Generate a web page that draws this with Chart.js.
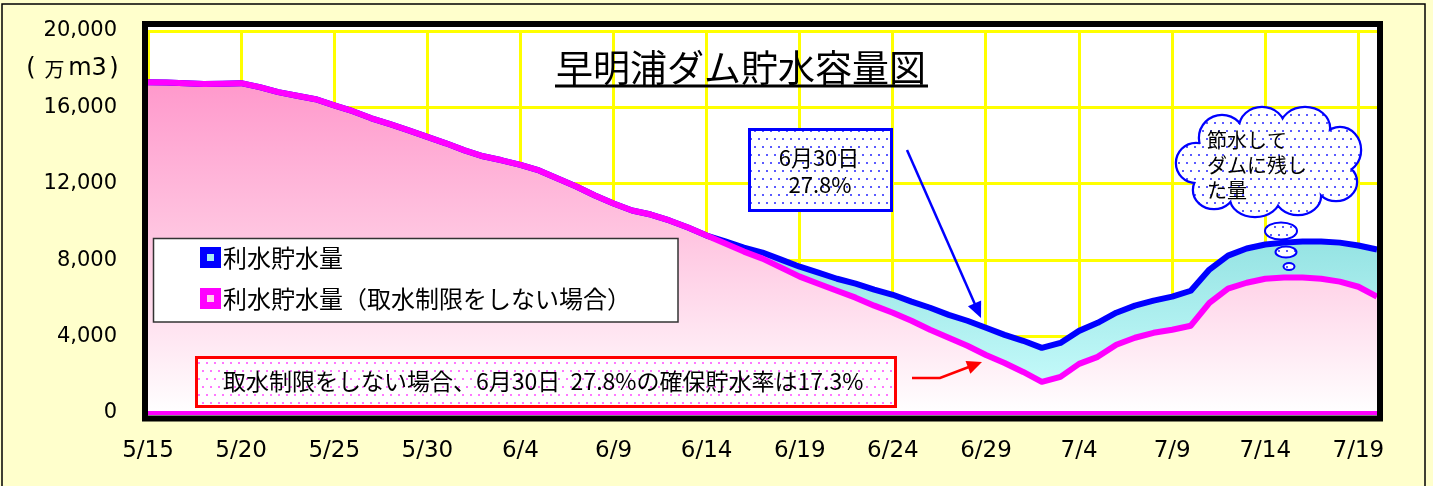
<!DOCTYPE html>
<html lang="ja">
<head>
<meta charset="utf-8">
<title>早明浦ダム貯水容量図</title>
<script src="https://cdn.jsdelivr.net/npm/chart.js@4.4.1/dist/chart.umd.min.js"></script>
<style>
  html, body { margin: 0; padding: 0; background: #FFFFCC; }
  #wrap { width: 1433px; height: 486px; }
</style>
</head>
<body>
<div id="wrap"><canvas id="damChart" width="1433" height="486"></canvas></div>
<script>
// days 5/15 - 7/20
var days = [
  '5/15','5/16','5/17','5/18','5/19','5/20','5/21','5/22','5/23','5/24','5/25','5/26','5/27','5/28','5/29','5/30','5/31',
  '6/1','6/2','6/3','6/4','6/5','6/6','6/7','6/8','6/9','6/10','6/11','6/12','6/13','6/14','6/15','6/16','6/17','6/18','6/19',
  '6/20','6/21','6/22','6/23','6/24','6/25','6/26','6/27','6/28','6/29','6/30',
  '7/1','7/2','7/3','7/4','7/5','7/6','7/7','7/8','7/9','7/10','7/11','7/12','7/13','7/14','7/15','7/16','7/17','7/18','7/19','7/20'
];
var xTickLabels = ['5/15','5/20','5/25','5/30','6/4','6/9','6/14','6/19','6/24','6/29','7/4','7/9','7/14','7/19'];
var yTicks = [0, 4000, 8000, 12000, 16000, 20000];

// 利水貯水量 (万m3)
var storage = [
  17320, 17300, 17270, 17220, 17240, 17270, 17060, 16800, 16610, 16430,
  16110, 15800, 15430, 15120, 14800, 14460, 14120, 13750, 13440, 13230,
  12990, 12700, 12280, 11860, 11390, 10970, 10600, 10390, 10080, 9710,
  9290, 8980, 8660, 8400, 8030, 7660, 7350, 7030, 6770, 6460,
  6190, 5830, 5510, 5140, 4830, 4460, 4090, 3780, 3410, 3670,
  4300, 4720, 5250, 5620, 5880, 6090, 6400, 7510, 8240, 8610,
  8820, 8920, 8980, 8980, 8920, 8770, 8560
];
// 利水貯水量（取水制限をしない場合）
var storageNoLimit = [
  17320, 17300, 17270, 17220, 17240, 17270, 17060, 16800, 16610, 16430,
  16110, 15800, 15430, 15120, 14800, 14460, 14120, 13750, 13440, 13230,
  12990, 12700, 12280, 11860, 11390, 10970, 10600, 10390, 10080, 9710,
  9290, 8870, 8450, 8080, 7610, 7140, 6770, 6400, 6040, 5620,
  5250, 4830, 4360, 3940, 3520, 3040, 2620, 2150, 1630, 1890,
  2570, 2940, 3570, 3940, 4200, 4360, 4570, 5770, 6510, 6820,
  7030, 7090, 7090, 7030, 6880, 6610, 6090
];

var JP = '"Noto Sans CJK JP"';

function dotPattern(ctx, dotColor) {
  var c = document.createElement('canvas');
  c.width = 16; c.height = 16;
  var g = c.getContext('2d');
  g.fillStyle = '#FFFFFF';
  g.fillRect(0, 0, 16, 16);
  g.fillStyle = dotColor;
  [[2, 2], [10, 2], [6, 10], [14, 10]].forEach(function(p) { g.fillRect(p[0], p[1], 2, 2); });
  return ctx.createPattern(c, 'repeat');
}

function arrow(ctx, pts, color, width, head) {
  var n = pts.length;
  var tip = pts[n - 1], prev = pts[n - 2];
  var ang = Math.atan2(tip[1] - prev[1], tip[0] - prev[0]);
  ctx.save();
  ctx.strokeStyle = color;
  ctx.fillStyle = color;
  ctx.lineWidth = width;
  ctx.beginPath();
  ctx.moveTo(pts[0][0], pts[0][1]);
  for (var i = 1; i < n - 1; i++) ctx.lineTo(pts[i][0], pts[i][1]);
  ctx.lineTo(tip[0] - Math.cos(ang) * head * 0.8, tip[1] - Math.sin(ang) * head * 0.8);
  ctx.stroke();
  ctx.beginPath();
  ctx.moveTo(tip[0], tip[1]);
  ctx.lineTo(tip[0] - Math.cos(ang) * head + Math.sin(ang) * head * 0.45, tip[1] - Math.sin(ang) * head - Math.cos(ang) * head * 0.45);
  ctx.lineTo(tip[0] - Math.cos(ang) * head - Math.sin(ang) * head * 0.45, tip[1] - Math.sin(ang) * head + Math.cos(ang) * head * 0.45);
  ctx.closePath();
  ctx.fill();
  ctx.restore();
}

// cloud callout bumps: cx, cy, rx, ry
var cloudBumps = [
  [1196, 163, 19, 19], [1222, 138, 22, 22], [1262, 128, 22, 20], [1305, 128, 24, 20],
  [1340, 150, 20, 22], [1336, 182, 20, 18], [1298, 196, 22, 18], [1255, 198, 24, 18],
  [1214, 190, 20, 18], [1268, 162, 76, 40]
];
var bubbles = [[1281, 231, 16, 8.5], [1286, 252, 10.5, 5.5], [1289, 266.5, 5.5, 3.5]];

var deco = {
  id: 'deco',
  beforeDraw: function(chart) {
    var ctx = chart.ctx;
    ctx.save();
    ctx.fillStyle = '#FFFFCC';
    ctx.fillRect(0, 0, chart.width, chart.height);
    ctx.strokeStyle = '#000';
    ctx.lineWidth = 1.5;
    ctx.strokeRect(2, 4, 1423, 490);
    ctx.fillStyle = '#FFFFFF';
    ctx.fillRect(148, 27, 1229, 389);
    ctx.restore();
  },
  afterDatasetsDraw: function(chart) {
    var ctx = chart.ctx, a = chart.chartArea;
    var y0 = chart.scales.y.getPixelForValue(0);
    ctx.save();
    ctx.strokeStyle = '#FF00FF';
    ctx.lineWidth = 4;
    ctx.beginPath();
    ctx.moveTo(a.left, y0);
    ctx.lineTo(a.right, y0);
    ctx.stroke();
    ctx.restore();
  },
  afterDraw: function(chart) {
    var ctx = chart.ctx;
    ctx.save();
    // frame
    ctx.strokeStyle = '#000';
    ctx.lineWidth = 6;
    ctx.strokeRect(145, 24, 1235, 394.5);

    // unit
    ctx.fillStyle = '#000';
    ctx.textBaseline = 'middle';
    ctx.textAlign = 'center';
    ctx.font = '24px "DejaVu Sans"';
    ctx.fillText('(', 31, 69);
    ctx.fillText(')', 114, 69);
    ctx.fillText('m3', 87.5, 69);
    ctx.font = '20px ' + JP;
    ctx.fillText('万', 54.5, 69);

    // title
    ctx.font = '37px ' + JP;
    ctx.fillText('早明浦ダム貯水容量図', 741, 68);
    ctx.fillRect(555, 84.5, 373, 3);

    // legend
    ctx.fillStyle = '#FFFFFF';
    ctx.fillRect(153, 238, 525, 84);
    ctx.strokeStyle = '#333';
    ctx.lineWidth = 1.5;
    ctx.strokeRect(153.5, 238.5, 524.5, 83.5);
    ctx.fillStyle = '#0000FF';
    ctx.fillRect(200, 247, 21, 21);
    ctx.fillStyle = '#A8ECF4';
    ctx.fillRect(207, 254, 7, 7);
    ctx.fillStyle = '#FF00FF';
    ctx.fillRect(200, 288, 21, 21);
    ctx.fillStyle = '#FFD0EC';
    ctx.fillRect(207, 295, 7, 7);
    ctx.fillStyle = '#000';
    ctx.textAlign = 'left';
    ctx.font = '24px ' + JP;
    ctx.fillText(chart.data.datasets[1].label, 223, 258);
    ctx.fillText(chart.data.datasets[0].label, 223, 299);

    // 6/30 box
    ctx.fillStyle = dotPattern(ctx, '#5A5AFF');
    ctx.fillRect(748, 128, 145, 84);
    ctx.strokeStyle = '#0000FF';
    ctx.lineWidth = 3;
    ctx.strokeRect(749.5, 129.5, 142, 81);
    ctx.fillStyle = '#000';
    ctx.textAlign = 'center';
    ctx.font = '22px ' + JP;
    ctx.fillText('6月30日', 819, 158);
    ctx.fillText('27.8%', 820, 185);
    arrow(ctx, [[907, 150], [981, 318]], '#0000FF', 2.5, 16);

    // no-limit box
    ctx.fillStyle = dotPattern(ctx, '#FF77FF');
    ctx.fillRect(195, 356, 702, 52);
    ctx.strokeStyle = '#FF0000';
    ctx.lineWidth = 3;
    ctx.strokeRect(196.5, 357.5, 699, 49);
    ctx.fillStyle = '#000';
    ctx.textAlign = 'left';
    ctx.font = '23px ' + JP;
    ctx.fillText('取水制限をしない場合、6月30日  27.8%の確保貯水率は17.3%', 223, 381);
    arrow(ctx, [[912, 378], [940, 378], [982, 362]], '#FF0000', 2.5, 15);

    // cloud
    var bluePat = dotPattern(ctx, '#5A5AFF');
    ctx.beginPath();
    cloudBumps.forEach(function(b) {
      ctx.moveTo(b[0] + b[2], b[1]);
      ctx.ellipse(b[0], b[1], b[2], b[3], 0, 0, Math.PI * 2);
    });
    ctx.strokeStyle = '#0000FF';
    ctx.lineWidth = 4.5;
    ctx.stroke();
    ctx.fillStyle = bluePat;
    ctx.fill();
    bubbles.forEach(function(b) {
      ctx.beginPath();
      ctx.ellipse(b[0], b[1], b[2], b[3], 0, 0, Math.PI * 2);
      ctx.fillStyle = bluePat;
      ctx.fill();
      ctx.lineWidth = 2;
      ctx.stroke();
    });
    ctx.fillStyle = '#000';
    ctx.textAlign = 'left';
    ctx.font = '20px ' + JP;
    ctx.fillText('節水して', 1207, 140);
    ctx.fillText('ダムに残し', 1207, 165);
    ctx.fillText('た量', 1207, 190);
    ctx.restore();
  }
};

function pinkFill(context) {
  var ch = context.chart;
  if (!ch.chartArea) return '#FFC0DD';
  var g = ch.ctx.createLinearGradient(0, 83, 0, ch.chartArea.bottom);
  g.addColorStop(0, '#FF99CC');
  g.addColorStop(0.45, '#FFC4E0');
  g.addColorStop(1, '#FFFFFF');
  return g;
}
function cyanFill(context) {
  var ch = context.chart;
  if (!ch.chartArea) return '#B0F0F0';
  var g = ch.ctx.createLinearGradient(0, 240, 0, 380);
  g.addColorStop(0, '#95E3E3');
  g.addColorStop(1, '#C2F9F9');
  return g;
}

var ctx = document.getElementById('damChart').getContext('2d');
var damChart = new Chart(ctx, {
  type: 'line',
  data: {
    labels: days,
    datasets: [{
      label: '利水貯水量（取水制限をしない場合）',
      data: storageNoLimit,
      borderColor: '#FF00FF',
      backgroundColor: pinkFill,
      borderWidth: 6,
      borderJoinStyle: 'round',
      pointRadius: 0,
      tension: 0,
      fill: 'origin'
    }, {
      label: '利水貯水量',
      data: storage,
      borderColor: '#0000FF',
      backgroundColor: cyanFill,
      borderWidth: 6,
      borderJoinStyle: 'round',
      pointRadius: 0,
      tension: 0,
      fill: '-1'
    }]
  },
  options: {
    responsive: false,
    animation: false,
    events: [],
    layout: { padding: { top: 31, right: 56, bottom: 0, left: 0 } },
    plugins: {
      legend: { display: false },
      tooltip: { enabled: false },
      filler: { drawTime: 'beforeDatasetsDraw' }
    },
    scales: {
      x: {
        type: 'category',
        offset: false,
        border: { display: false },
        grid: {
          color: function(c) { return xTickLabels.indexOf(days[c.index]) >= 0 ? '#FFFF00' : 'rgba(0,0,0,0)'; },
          lineWidth: 3,
          drawTicks: false
        },
        ticks: {
          autoSkip: false,
          maxRotation: 0,
          minRotation: 0,
          padding: 24,
          color: '#000',
          font: { family: 'DejaVu Sans', size: 23 },
          callback: function(v, i) { return xTickLabels.indexOf(days[i]) >= 0 ? days[i] : ''; }
        },
        afterFit: function(s) { s.height = 73; }
      },
      y: {
        min: 0,
        max: 20000,
        border: { display: false },
        grid: { color: '#FFFF00', lineWidth: 3, drawTicks: false },
        ticks: {
          padding: 31,
          color: '#000',
          font: { family: 'DejaVu Sans', size: 21 },
          callback: function(v) { return v.toLocaleString('en-US'); }
        },
        afterBuildTicks: function(s) { s.ticks = yTicks.map(function(v) { return { value: v }; }); },
        afterFit: function(s) { s.width = 148; s.paddingTop = 0; s.paddingBottom = 0; }
      }
    }
  },
  plugins: [deco]
});
</script>
</body>
</html>
